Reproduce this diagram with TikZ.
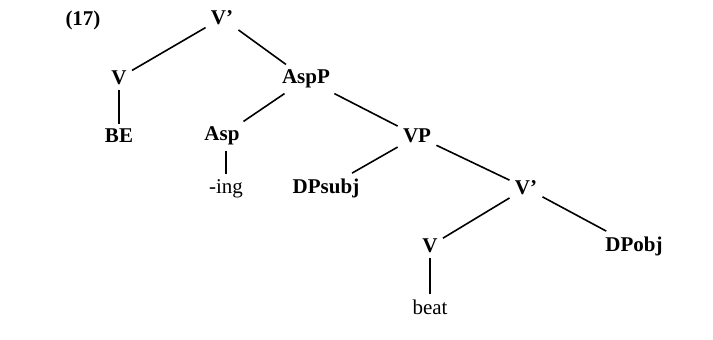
\documentclass[tikz,border=0pt]{standalone}
\usepackage{fontspec}
\setmainfont{Liberation Serif}

\tikzset{
  cat/.style={font=\fontsize{10.5}{12}\selectfont\bfseries, inner sep=2.5pt},
  word/.style={font=\fontsize{10.5}{12}\selectfont, inner sep=2.5pt},
  branch/.style={line width=0.8pt},
}

\begin{document}
\begin{tikzpicture}[x=0.5pt,y=-0.5pt]
  \useasboundingbox (0,0) rectangle (713,339);
  %
  \node[cat] (ex) at (83,20) {(17)};
  \node[cat] (vbar) at (222,18) {V'};
  \node[cat] (v) at (119,78) {V};
  \node[cat] (be) at (119,136) {BE};
  \node[cat] (aspp) at (306,79) {AspP};
  \node[cat] (asp) at (222,136) {Asp};
  \node[word] (ing) at (226,189) {-ing};
  \node[cat] (vp) at (417,136) {VP};
  \node[cat] (dps) at (326,188) {DPsubj};
  \node[cat] (vbarlow) at (526,188) {V'};
  \node[cat] (vlow) at (430,246) {V};
  \node[cat] (dpo) at (634,246) {DPobj};
  \node[word] (beat) at (430,307) {beat};
  %
  \draw[branch] (vbar) -- (v);
  \draw[branch] (vbar) -- (aspp);
  \draw[branch] (v) -- (be);
  \draw[branch] (aspp) -- (asp);
  \draw[branch] (aspp) -- (vp);
  \draw[branch] (asp.south -| ing) -- (ing);
  \draw[branch] (vp) -- (dps);
  \draw[branch] (vp) -- (vbarlow);
  \draw[branch] (vbarlow) -- (vlow);
  \draw[branch] (vbarlow) -- (dpo);
  \draw[branch] (vlow) -- (beat);
\end{tikzpicture}
\end{document}
